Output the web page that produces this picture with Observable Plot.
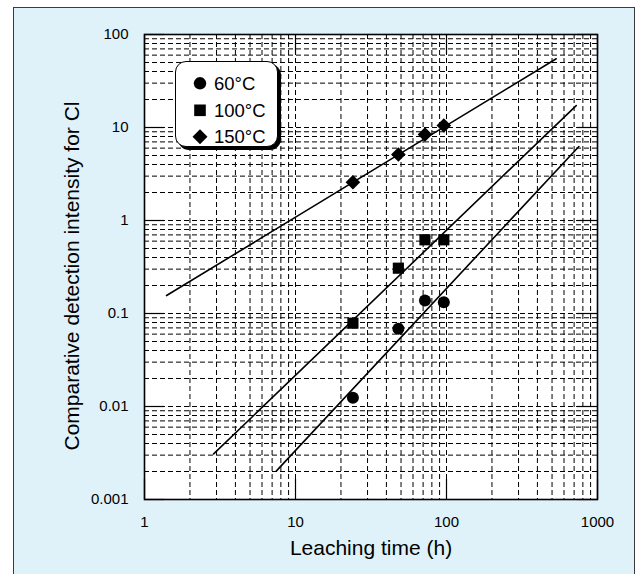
<!DOCTYPE html>
<html><head><meta charset="utf-8">
<script src="https://cdn.jsdelivr.net/npm/d3@7"></script>
<script src="https://cdn.jsdelivr.net/npm/@observablehq/plot@0.6"></script>
<style>
html,body{margin:0;padding:0;background:#fff;}
#wrap{position:relative;width:643px;height:574px;overflow:hidden;font-family:"Liberation Sans",Arial,sans-serif;}
#panel{position:absolute;left:13px;top:7px;width:622px;height:600px;border:1.5px solid #3a3a3a;background:#dff2fa;box-sizing:border-box;}
#chart{position:absolute;left:0;top:0;}
#legend{position:absolute;left:175px;top:61px;width:103px;height:86px;box-sizing:border-box;border:1.5px solid #000;border-radius:11px;background:#fff;box-shadow:3px 3px 0 #000;}
#legsvg{position:absolute;left:0;top:0;pointer-events:none;}
</style></head>
<body><div id="wrap"><div id="panel"></div><div id="chart"></div><div id="legend"></div><svg id="legsvg" width="643" height="574"></svg></div>
<script>
// ---- data ----
const times = [24, 48, 72, 96];
const i60 = [0.0124, 0.0685, 0.138, 0.132];
const i100 = [0.0787, 0.307, 0.62, 0.62];
const i150 = [2.58, 5.13, 8.4, 10.5];
const fit60X = [7.48, 753];
const fit60Y = [0.00203, 6.25];
const fit100X = [2.87, 723];
const fit100Y = [0.00309, 17.2];
const fit150X = [1.40, 533];
const fit150Y = [0.156, 54.8];
const xTicks = [1, 10, 100, 1000];
const xTickLabels = ["1", "10", "100", "1000"];
const yTicks = [0.001, 0.01, 0.1, 1, 10, 100];
const yTickLabels = ["0.001", "0.01", "0.1", "1", "10", "100"];
const legendLabels = ["60°C", "100°C", "150°C"];
const legendSymbols = ["circle", "square", "diamond"];
const xLabel = "Leaching time (h)";
const yLabel = "Comparative detection intensity for Cl";

// ---- helpers ----
const pts = (xs, ys) => xs.map((x, i) => ({x, y: ys[i]}));
const xGrid = d3.scaleLog().domain([1, 1000]).ticks();
const yGrid = d3.scaleLog().domain([0.001, 100]).ticks();
const font = '"Liberation Sans", Arial, sans-serif';
const W = 643, H = 574, mT = 34, mB = 75, mL = 144, mR = 46;
const innerW = W - mL - mR, innerH = H - mT - mB;
const tickLen = 20;
const gridStyle = {stroke: "#000", strokeOpacity: 1, strokeWidth: 1, strokeDasharray: "5,3"};

const chart = Plot.plot({
  width: W, height: H,
  marginTop: mT, marginBottom: mB, marginLeft: mL, marginRight: mR,
  style: {background: "transparent", fontFamily: font, fontSize: "15px", color: "#000"},
  x: {type: "log", domain: [1, 1000]},
  y: {type: "log", domain: [0.001, 100]},
  marks: [
    Plot.frame({fill: "#fff", stroke: null}),
    Plot.gridX({ticks: xGrid, ...gridStyle}),
    Plot.gridY({ticks: yGrid, ...gridStyle}),
    Plot.ruleX(xTicks, {insetTop: innerH - tickLen, stroke: "#000", strokeWidth: 1.2}),
    Plot.ruleX(xTicks, {insetBottom: innerH - tickLen, stroke: "#000", strokeWidth: 1.2}),
    Plot.ruleY(yTicks, {insetRight: innerW - tickLen, stroke: "#000", strokeWidth: 1.2}),
    Plot.ruleY(yTicks, {insetLeft: innerW - tickLen, stroke: "#000", strokeWidth: 1.2}),
    Plot.line(pts(fit60X, fit60Y), {x: "x", y: "y", stroke: "#000", strokeWidth: 1.6}),
    Plot.line(pts(fit100X, fit100Y), {x: "x", y: "y", stroke: "#000", strokeWidth: 1.6}),
    Plot.line(pts(fit150X, fit150Y), {x: "x", y: "y", stroke: "#000", strokeWidth: 1.6}),
    Plot.dot(pts(times, i60), {x: "x", y: "y", symbol: "circle", r: 6, fill: "#000", stroke: null}),
    Plot.dot(pts(times, i100), {x: "x", y: "y", symbol: "square", r: 6.3, fill: "#000", stroke: null}),
    Plot.dot(pts(times, i150), {x: "x", y: "y", symbol: "diamond2", r: 6.6, fill: "#000", stroke: null}),
    Plot.frame({stroke: "#000", strokeWidth: 1.6}),
    Plot.axisX({ticks: xTicks, tickSize: 0, tickPadding: 17, fontSize: 15, label: null,
      tickFormat: d => xTickLabels[xTicks.indexOf(d)]}),
    Plot.axisY({ticks: yTicks, tickSize: 0, tickPadding: 16, fontSize: 15, label: null,
      tickFormat: d => yTickLabels[yTicks.indexOf(d)]}),
    Plot.text([xLabel], {text: d => d, frameAnchor: "bottom", textAnchor: "middle", lineAnchor: "middle", dy: 49, fontSize: 21, fill: "#000"}),
    Plot.text([yLabel], {text: d => d, frameAnchor: "left", textAnchor: "middle", lineAnchor: "middle", rotate: -90, dx: -72, dy: 9, fontSize: 21, fill: "#000"})
  ]
});
document.getElementById("chart").appendChild(chart);

// ---- legend ----
const leg = d3.select("#legsvg");
const lx = 200, tx = 214, rows = [83.3, 110.3, 136.7];
legendLabels.forEach((lab, i) => {
  const y = rows[i];
  const s = legendSymbols[i];
  if (s === "circle") leg.append("circle").attr("cx", lx).attr("cy", y).attr("r", 6.2).attr("fill", "#000");
  else if (s === "square") leg.append("rect").attr("x", lx - 5.8).attr("y", y - 5.8).attr("width", 11.6).attr("height", 11.6).attr("fill", "#000");
  else leg.append("path").attr("d", `M${lx},${y - 7.5}L${lx + 7.5},${y}L${lx},${y + 7.5}L${lx - 7.5},${y}Z`).attr("fill", "#000");
  leg.append("text").attr("x", tx).attr("y", y).attr("dy", "0.36em")
    .attr("font-family", font).attr("font-size", 18.5).attr("fill", "#000").text(lab);
});
</script>
</body></html>
